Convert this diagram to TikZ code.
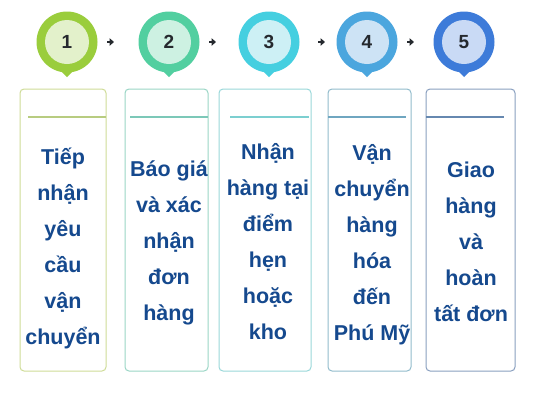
\documentclass[tikz,border=0pt]{standalone}
\usepackage{fontspec}
\setmainfont{Liberation Sans}
\usetikzlibrary{arrows.meta,calc}
\definecolor{txt}{HTML}{15498E}
\definecolor{num}{HTML}{25292E}
\definecolor{oA}{HTML}{9ACD3C}\definecolor{iA}{HTML}{E3F1CB}
\definecolor{oB}{HTML}{52CFA0}\definecolor{iB}{HTML}{CDF1E2}
\definecolor{oC}{HTML}{45CFE0}\definecolor{iC}{HTML}{CDF0F5}
\definecolor{oD}{HTML}{4BA6DE}\definecolor{iD}{HTML}{CDE3F5}
\definecolor{oE}{HTML}{3D7BD9}\definecolor{iE}{HTML}{C9DAF5}
\definecolor{bA}{HTML}{CFDC98}\definecolor{lA}{HTML}{B8CC80}
\definecolor{bB}{HTML}{9BD6C6}\definecolor{lB}{HTML}{7CC8B8}
\definecolor{bC}{HTML}{9AD8DA}\definecolor{lC}{HTML}{7CCFD0}
\definecolor{bD}{HTML}{92BCCC}\definecolor{lD}{HTML}{6FA6C0}
\definecolor{bE}{HTML}{8AA0C0}\definecolor{lE}{HTML}{6688B0}
\tikzset{
  pinnum/.style={circle,minimum size=44pt,inner sep=0pt,font=\bfseries\fontsize{19}{19}\selectfont,text=num},
  stepbox/.style={draw,line width=1pt,rounded corners=4pt},
  sepline/.style={line width=1.2pt},
  steptext/.style={align=center,text=txt,font=\bfseries\fontsize{21.5}{36}\selectfont,inner sep=0pt},
  arr/.style={line width=2.2pt,draw=num,-{Triangle[length=4.5pt,width=7.5pt]}},
}
\newcommand{\mypin}[5]{% name, x, outer, inner, number
  \fill[#3] (#2,42) circle (30.5);
  \fill[#3] (#2-7,70) -- (#2,77) -- (#2+7,70) -- cycle;
  \node[pinnum,fill=#4] (#1) at (#2,42) {#5};
}
\begin{document}
\begin{tikzpicture}[x=1pt,y=-1pt]
\useasboundingbox (0,0) rectangle (533,400);
\fill[white] (0,0) rectangle (533,400);
% pins
\mypin{p1}{67}{oA}{iA}{1}
\mypin{p2}{169}{oB}{iB}{2}
\mypin{p3}{269}{oC}{iC}{3}
\mypin{p4}{367}{oD}{iD}{4}
\mypin{p5}{464}{oE}{iE}{5}
% arrows
\draw[arr] ([xshift=40pt]p1.center) -- ([xshift=47pt]p1.center);
\draw[arr] ([xshift=40pt]p2.center) -- ([xshift=47pt]p2.center);
\draw[arr] ([xshift=49pt]p3.center) -- ([xshift=56pt]p3.center);
\draw[arr] ([xshift=40pt]p4.center) -- ([xshift=47pt]p4.center);
% boxes
\draw[stepbox,draw=bA] (20,89) rectangle (106,371);
\draw[sepline,draw=lA] (28,117) -- (106,117);
\draw[stepbox,draw=bB] (125,89) rectangle (208,371);
\draw[sepline,draw=lB] (130,117) -- (208,117);
\draw[stepbox,draw=bC] (219,89) rectangle (311,371);
\draw[sepline,draw=lC] (230,117) -- (309,117);
\draw[stepbox,draw=bD] (328,89) rectangle (411,371);
\draw[sepline,draw=lD] (328,117) -- (406,117);
\draw[stepbox,draw=bE] (426,89) rectangle (515,371);
\draw[sepline,draw=lE] (426,117) -- (504,117);
% texts
\node[steptext] (t1) at (63,248) {Tiếp\\nhận\\yêu\\cầu\\vận\\chuyển};
\node[steptext] (t2) at (169,243) {Báo giá\\và xác\\nhận\\đơn\\hàng};
\node[steptext] (t3) at (268,242) {Nhận\\hàng tại\\điểm\\hẹn\\hoặc\\kho};
\node[steptext] (t4) at (372,245) {Vận\\chuyển\\hàng\\hóa\\đến\\Phú Mỹ};
\node[steptext] (t5) at (471,242) {Giao\\hàng\\và\\hoàn\\tất đơn};
\end{tikzpicture}
\end{document}
